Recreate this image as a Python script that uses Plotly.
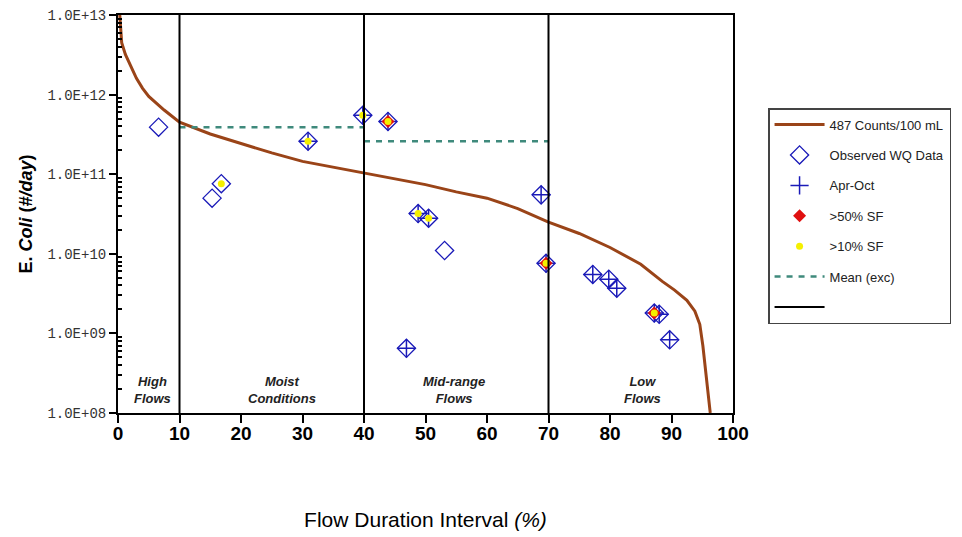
import plotly.graph_objects as go

# Load duration curve (487 counts/100 mL)
ldc_x = [0.2, 0.6, 1.2, 2, 3, 4, 5, 7.5, 10, 15, 20, 25, 30, 35, 40, 45, 50, 55, 60, 65,
         70, 75, 80, 85, 88.5, 90.5, 92.5, 93.8, 94.6, 95.1, 95.7, 96.3, 96.8]
ldc_y = [1.25e13, 4.5e12, 3.2e12, 2.4e12, 1.6e12, 1.2e12, 9.5e11, 6.4e11, 4.5e11, 3.2e11,
         2.45e11, 1.85e11, 1.45e11, 1.23e11, 1.05e11, 8.9e10, 7.4e10, 6.0e10, 5.0e10, 3.7e10,
         2.5e10, 1.8e10, 1.2e10, 7.4e9, 4.5e9, 3.5e9, 2.6e9, 1.9e9, 1.3e9, 7e8, 2.4e8, 1.0e8, 6e7]

# Observed WQ data
obs_x = [6.6, 15.3, 16.8, 30.9, 39.8, 43.9, 46.9, 48.8, 50.5, 53.1, 68.8, 69.6, 77.2, 79.8,
         81.1, 87.2, 88.0, 89.7]
obs_y = [3.9e11, 5.0e10, 7.6e10, 2.6e11, 5.5e11, 4.6e11, 6.5e8, 3.2e10, 2.8e10, 1.1e10,
         5.5e10, 7.6e9, 5.5e9, 4.8e9, 3.7e9, 1.8e9, 1.74e9, 8.3e8]

# Apr-Oct samples
apr_x = [30.9, 39.8, 43.9, 46.9, 48.8, 50.5, 68.8, 69.6, 77.2, 79.8, 81.1, 87.2, 88.0, 89.7]
apr_y = [2.6e11, 5.5e11, 4.6e11, 6.5e8, 3.2e10, 2.8e10, 5.5e10, 7.6e9, 5.5e9, 4.8e9, 3.7e9,
         1.8e9, 1.74e9, 8.3e8]

# >50% SF
sf50_x = [43.9, 69.6, 87.2]
sf50_y = [4.6e11, 7.6e9, 1.8e9]

# >10% SF
sf10_x = [16.8, 30.9, 39.8, 43.9, 48.8, 50.5, 69.6, 87.2]
sf10_y = [7.6e10, 2.6e11, 5.5e11, 4.6e11, 3.2e10, 2.8e10, 7.6e9, 1.8e9]

# Mean (exceedances) per zone
mean_x = [10, 40, None, 40, 70]
mean_y = [3.9e11, 3.9e11, None, 2.6e11, 2.6e11]

# Zone dividers
div_x = [10, 10, None, 40, 40, None, 70, 70]
div_y = [1e8, 1e13, None, 1e8, 1e13, None, 1e8, 1e13]

zone_x = [5.6, 26.6, 54.6, 85.3]
zone_labels = ["High<br>Flows", "Moist<br>Conditions", "Mid-range<br>Flows", "Low<br>Flows"]

ytick_vals = [1e8, 1e9, 1e10, 1e11, 1e12, 1e13]
ytick_text = ["1.0E+08", "1.0E+09", "1.0E+10", "1.0E+11", "1.0E+12", "1.0E+13"]
yminor_vals = [m * 10 ** e for e in range(8, 13) for m in range(2, 10)]

BLUE = "#1a1ab8"
fig = go.Figure()
fig.add_trace(go.Scatter(x=ldc_x, y=ldc_y, mode="lines", name="487 Counts/100 mL",
                         line=dict(color="#9a4418", width=3), legendgroup="a"))
fig.add_trace(go.Scatter(x=obs_x, y=obs_y, mode="markers", name="Observed WQ Data",
                         marker=dict(symbol="diamond-open", size=14, color=BLUE,
                                     line=dict(width=1.3, color=BLUE)), legendgroup="b"))
fig.add_trace(go.Scatter(x=apr_x, y=apr_y, mode="markers", name="Apr-Oct",
                         marker=dict(symbol="cross-thin-open", size=13, color=BLUE,
                                     line=dict(width=1.5, color=BLUE)), legendgroup="c"))
fig.add_trace(go.Scatter(x=sf50_x, y=sf50_y, mode="markers", name=">50% SF",
                         marker=dict(symbol="diamond", size=10, color="#e01010"), legendgroup="d"))
fig.add_trace(go.Scatter(x=sf10_x, y=sf10_y, mode="markers", name=">10% SF",
                         marker=dict(symbol="circle", size=7, color="#f5f000"), legendgroup="e"))
fig.add_trace(go.Scatter(x=mean_x, y=mean_y, mode="lines", name="Mean (exc)",
                         line=dict(color="#3f8a7c", width=2.5, dash="6px,6px"), legendgroup="f"))
fig.add_trace(go.Scatter(x=div_x, y=div_y, mode="lines", name=" ",
                         line=dict(color="black", width=2), legendgroup="g"))

for zx, zl in zip(zone_x, zone_labels):
    fig.add_annotation(x=zx, y=0.058, yref="paper", text="<b><i>" + zl + "</i></b>",
                       showarrow=False, font=dict(family="Liberation Sans", size=13, color="#222"),
                       align="center", yanchor="middle")

fig.update_xaxes(range=[0, 100], dtick=10, tick0=0, ticks="outside", ticklen=8, tickwidth=2,
                 tickcolor="black", showline=True, linecolor="black", linewidth=2, mirror=True,
                 showgrid=False, zeroline=False, automargin=False, ticklabelstandoff=-6,
                 ticklabeloverflow="allow",
                 tickfont=dict(family="Liberation Sans", size=19, color="black", weight="bold"),
                 title=dict(text="Flow Duration Interval <i>(%)</i>", standoff=70,
                            font=dict(family="Liberation Sans", size=21, color="black")))
fig.update_yaxes(type="log", range=[8, 13], tickvals=ytick_vals, ticktext=ytick_text,
                 ticks="outside", ticklen=7, tickwidth=2, tickcolor="black",
                 showline=True, linecolor="black", linewidth=2, mirror=True,
                 showgrid=False, zeroline=False, automargin=False, ticklabeloverflow="allow",
                 minor=dict(ticks="inside", ticklen=4, tickcolor="black", tickvals=yminor_vals,
                            showgrid=False),
                 tickfont=dict(family="Liberation Mono", size=14, color="#333"),
                 title=dict(text="<b>E. <i>Coli</i> (<i>#/day</i>)</b>", standoff=10,
                            font=dict(family="Liberation Sans", size=18, color="black")))

fig.update_layout(width=954, height=529, margin=dict(l=110, r=229, t=7, b=124),
                  plot_bgcolor="white", paper_bgcolor="white",
                  legend=dict(x=1.057, y=0.766, xanchor="left", yanchor="top",
                              bgcolor="white", bordercolor="#444", borderwidth=1.5,
                              font=dict(family="Liberation Sans", size=13, color="#222"),
                              tracegroupgap=10.5, itemwidth=50))

fig.write_html("out.html")
